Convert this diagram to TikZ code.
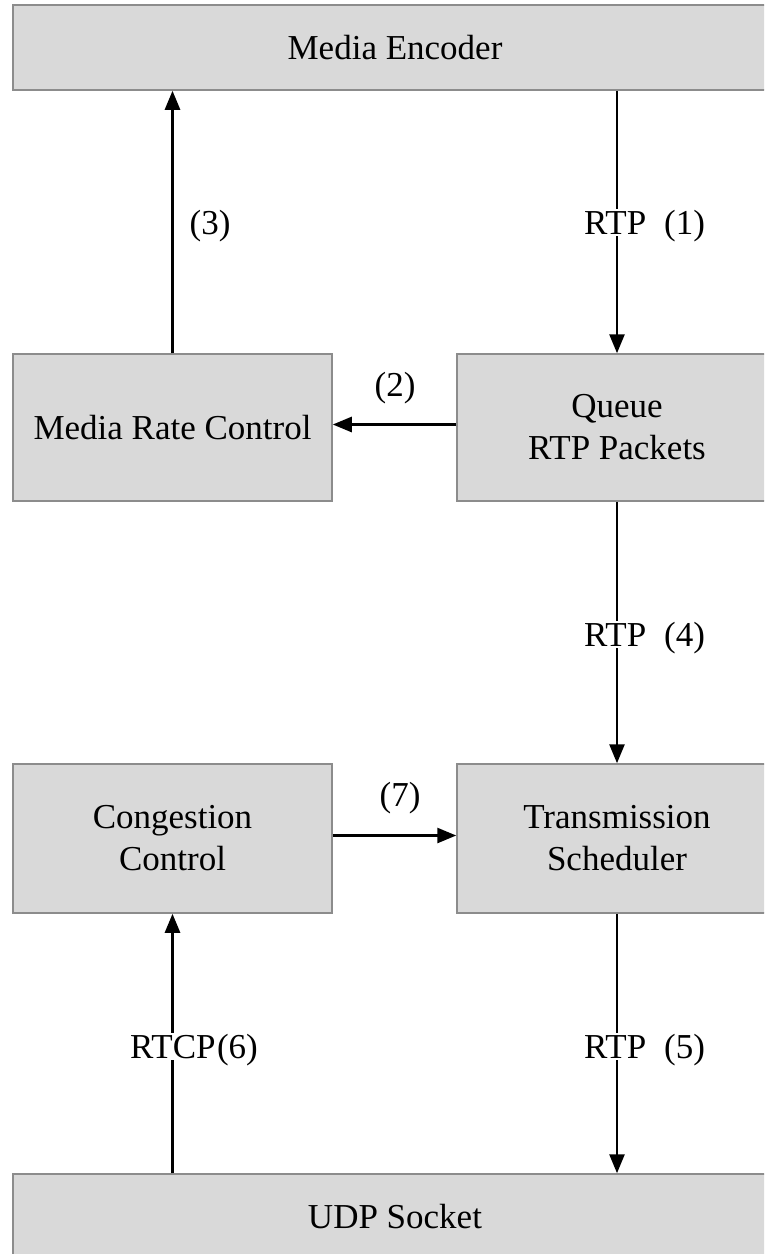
\documentclass[tikz,border=0pt]{standalone}
\usepackage{fontspec}
\setmainfont{Liberation Serif}
\usetikzlibrary{arrows.meta}
\definecolor{boxfill}{HTML}{D9D9D9}
\definecolor{boxline}{HTML}{8C8C8C}
\begin{document}
\begin{tikzpicture}[x=1pt,y=-1pt,
  txt/.style={font=\fontsize{35}{42}\selectfont},
  blk/.style={txt, draw=boxline, line width=1.5pt, fill=boxfill, inner sep=0pt, align=center},
  lbl/.style={txt, inner sep=2pt},
  lblw/.style={lbl, fill=white},
  conn/.style={line width=2.6pt, -{Triangle[length=19pt,width=15pt]}}]
\path[use as bounding box, clip] (0,0) rectangle (764,1254);

% processing blocks
\node[blk, minimum width=764pt, minimum height=85pt] (enc) at (395,47.5) {Media Encoder};
\node[blk, minimum width=319pt, minimum height=147pt] (mrc) at (172.5,427.5) {Media Rate Control};
\node[blk, minimum width=320pt, minimum height=147pt] (queue) at (617,427.5) {Queue\\RTP Packets};
\node[blk, minimum width=319pt, minimum height=149pt] (cc) at (172.5,838.5) {Congestion\\Control};
\node[blk, minimum width=320pt, minimum height=149pt] (sched) at (617,838.5) {Transmission\\Scheduler};
\node[blk, minimum width=764pt, minimum height=86pt] (udp) at (395,1217) {UDP Socket};

% data and control flows
\draw[conn] (enc.south -| queue.north) -- (queue.north);
\draw[conn] ([yshift=3pt]queue.west) -- ([yshift=3pt]mrc.east);
\draw[conn] (mrc.north) -- (mrc.north |- enc.south);
\draw[conn] (queue.south) -- (sched.north);
\draw[conn] ([yshift=3pt]cc.east) -- ([yshift=3pt]sched.west);
\draw[conn] (sched.south) -- (sched.south |- udp.north);
\draw[conn] (udp.north -| cc.south) -- (cc.south);

% flow labels
\node[lbl, anchor=base] (l3) at (210,234) {(3)};
\node[lblw, anchor=base west] (l1a) at (582,234) {RTP};
\node[lbl, anchor=base west] (l1b) at (662,234) {(1)};
\node[lbl, anchor=base] (l2) at (395,396) {(2)};
\node[lblw, anchor=base west] (l4a) at (582,646) {RTP};
\node[lbl, anchor=base west] (l4b) at (662,646) {(4)};
\node[lbl, anchor=base] (l7) at (400,806) {(7)};
\node[lblw, anchor=base west] (l6a) at (128,1058) {RTCP};
\node[lbl, anchor=base west, xshift=-3pt] (l6b) at (l6a.base east) {(6)};
\node[lblw, anchor=base west] (l5a) at (582,1058) {RTP};
\node[lbl, anchor=base west] (l5b) at (662,1058) {(5)};
\end{tikzpicture}
\end{document}
